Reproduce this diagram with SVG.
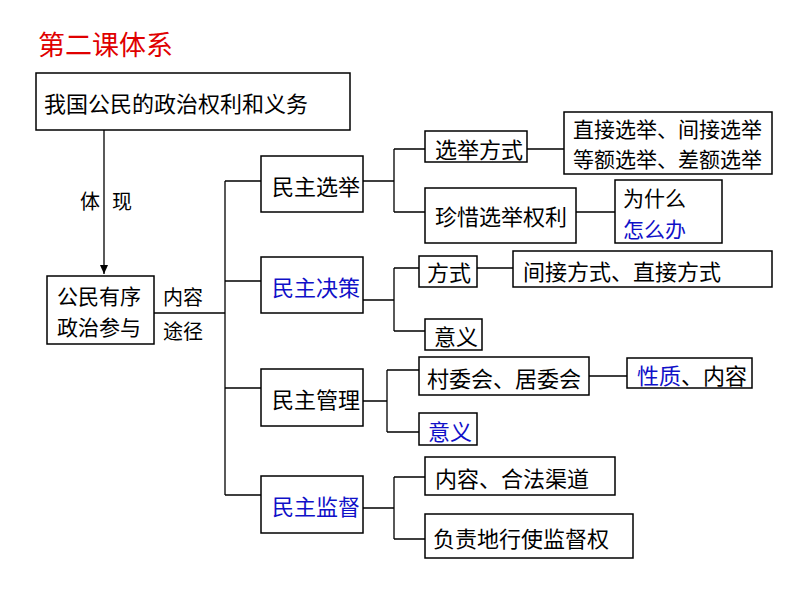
<svg xmlns="http://www.w3.org/2000/svg" width="800" height="600" viewBox="0 0 800 600">
<defs>
<style>
text{font-family:"Noto Sans CJK SC","Noto Sans",sans-serif;dominant-baseline:central;fill:#000}
.b{fill:#fff;stroke:#000;stroke-width:1.5}
.l{fill:none;stroke:#000;stroke-width:1.3}
.blue{fill:#1010c8}
.t22{font-size:22px}
.t21{font-size:21px}
.t20{font-size:20px}
</style>
<marker id="arr" markerWidth="10" markerHeight="10" refX="9" refY="5" orient="auto" markerUnits="userSpaceOnUse">
<path d="M0,1 L9,5 L0,9 Z" fill="#000"/>
</marker>
</defs>
<rect width="800" height="600" fill="#fff"/>
<text x="38" y="43" style="font-size:27px;fill:#e00000">第二课体系</text>

<g id="connectors">
<path class="l" d="M104,130 V274" marker-end="url(#arr)"/>
<path class="l" d="M154,313 H225"/>
<path class="l" d="M225,181 V495"/>
<path class="l" d="M225,181 H261 M225,281 H261 M225,388 H261 M225,495 H261"/>
<path class="l" d="M363,181 H394 M394,149 V212 M394,149 H425 M394,212 H425"/>
<path class="l" d="M527,149 H564 M576,212 H615"/>
<path class="l" d="M363,300 H394 M394,268 V331 M394,268 H419 M394,331 H425 M477,268 H513"/>
<path class="l" d="M357,401 H387 M387,370 V432 M387,370 H419 M387,432 H419 M589,376 H627"/>
<path class="l" d="M363,508 H394 M394,477 V539 M394,477 H425 M394,539 H425"/>
</g>

<g id="n_root"><rect class="b" x="36" y="73" width="314" height="57"/><text class="t22" x="44" y="102">我国公民的政治权利和义务</text></g>
<g id="lbl_tixian"><text class="t20" x="80" y="200">体</text><text class="t20" x="112" y="200">现</text></g>
<g id="n_canyu"><rect class="b" x="47" y="276" width="107" height="68"/><text class="t21" x="57" y="295">公民有序</text><text class="t21" x="57" y="326">政治参与</text></g>
<g id="lbl_nr"><text class="t20" x="163" y="296">内容</text><text class="t20" x="163" y="330">途径</text></g>

<g id="n_xuanju"><rect class="b" x="261" y="156" width="102" height="56"/><text class="t22" x="272" y="185">民主选举</text></g>
<g id="n_juece"><rect class="b" x="261" y="257" width="102" height="56"/><text class="t22 blue" x="272" y="286">民主决策</text></g>
<g id="n_guanli"><rect class="b" x="261" y="369" width="102" height="57"/><text class="t22" x="272" y="398">民主管理</text></g>
<g id="n_jiandu"><rect class="b" x="261" y="476" width="102" height="57"/><text class="t22 blue" x="272" y="505">民主监督</text></g>

<g id="n_xjfs"><rect class="b" x="425" y="131" width="102" height="31"/><text class="t22" x="435" y="148">选举方式</text></g>
<g id="n_xjfs2"><rect class="b" x="564" y="112" width="208" height="62"/><text class="t21" x="573" y="128">直接选举、间接选举</text><text class="t21" x="573" y="158">等额选举、差额选举</text></g>
<g id="n_zx"><rect class="b" x="425" y="188" width="151" height="55"/><text class="t22" x="435" y="215">珍惜选举权利</text></g>
<g id="n_wsm"><rect class="b" x="615" y="180" width="107" height="63"/><text class="t21" x="623" y="197">为什么</text><text class="t21 blue" x="623" y="228">怎么办</text></g>

<g id="n_fs"><rect class="b" x="419" y="256" width="58" height="31"/><text class="t22" x="427" y="271">方式</text></g>
<g id="n_fs2"><rect class="b" x="513" y="251" width="259" height="36"/><text class="t22" x="523" y="270">间接方式、直接方式</text></g>
<g id="n_yy1"><rect class="b" x="425" y="319" width="57" height="31"/><text class="t22" x="434" y="335">意义</text></g>

<g id="n_cwh"><rect class="b" x="419" y="357" width="170" height="38"/><text class="t22" x="427" y="377">村委会、居委会</text></g>
<g id="n_xz"><rect class="b" x="627" y="358" width="125" height="30"/><text class="t22" x="637" y="374"><tspan class="blue">性质</tspan>、内容</text></g>
<g id="n_yy2"><rect class="b" x="419" y="413" width="58" height="32"/><text class="t22 blue" x="428" y="430">意义</text></g>

<g id="n_nr"><rect class="b" x="425" y="457" width="190" height="38"/><text class="t22" x="435" y="477">内容、合法渠道</text></g>
<g id="n_fz"><rect class="b" x="425" y="514" width="208" height="44"/><text class="t22" x="433" y="537">负责地行使监督权</text></g>
</svg>
